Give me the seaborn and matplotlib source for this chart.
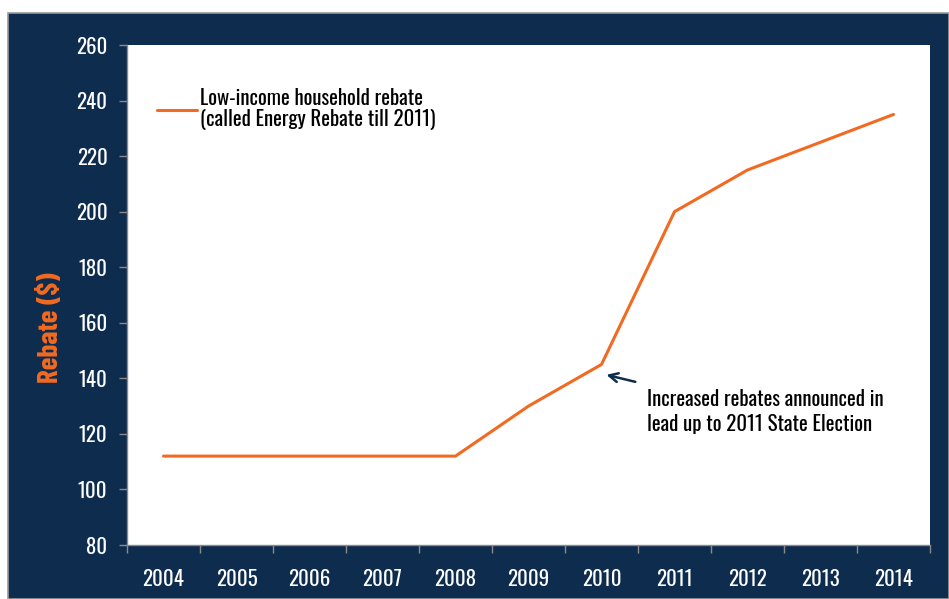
import matplotlib
matplotlib.use("Agg")
import matplotlib.pyplot as plt
from matplotlib.patches import Rectangle
from matplotlib import font_manager
import seaborn as sns
import numpy as np

years = [2004, 2005, 2006, 2007, 2008, 2009, 2010, 2011, 2012, 2013, 2014]
rebate = [112, 112, 112, 112, 112, 130, 145, 200, 215, 225, 235]
y_ticks = [80, 100, 120, 140, 160, 180, 200, 220, 240, 260]
series_label = "Low-income household rebate\n(called Energy Rebate till 2011)"
note = "Increased rebates announced in\nlead up to 2011 State Election"

NAVY = "#0e2c4e"
ORANGE = "#f26a21"

sns.set_theme(style="white")
names = {f.name for f in font_manager.fontManager.ttflist}


def pick(cands):
    for c in cands:
        if c in names:
            return c
    return "DejaVu Sans"


fam = pick(["Oswald", "Barlow Condensed", "Roboto Condensed", "Archivo Narrow"])
bold_fam = pick(["Barlow Condensed", "Roboto Condensed", "Archivo Narrow", "Oswald"])
plt.rcParams["font.family"] = [fam, "DejaVu Sans"]
FS = 15
W8 = 300

W, H = 949, 599
fig = plt.figure(figsize=(W / 100, H / 100), dpi=100, facecolor="white")
bg = Rectangle((8 / W, 0), (W - 8) / W, (H - 13) / H,
               transform=fig.transFigure, facecolor=NAVY,
               edgecolor="#9a9a9a", linewidth=1.2, zorder=-10)
fig.add_artist(bg)

ax = fig.add_axes([127 / W, (H - 545) / H, 803 / W, 500 / H])
ax.set_zorder(1)
ax.set_facecolor("white")
sns.lineplot(x=years, y=rebate, ax=ax, color=ORANGE, linewidth=2.2,
             label=series_label)

ax.set_xlim(2003.5, 2014.5)
ax.set_ylim(80, 260)
ax.set_yticks(y_ticks)
ax.set_xticks(years)
ax.set_xticks(np.arange(2003.5, 2015, 1.0), minor=True)
ax.tick_params(axis="x", which="major", length=0, pad=17, labelsize=FS, labelcolor="white")
ax.tick_params(axis="x", which="minor", length=6, width=1, color="#8a8a8a", direction="out", bottom=True)
ax.tick_params(axis="y", length=6, width=1, color="#8a8a8a", direction="out", left=True,
               labelsize=FS, labelcolor="white", pad=8)
for lab in ax.get_xticklabels() + ax.get_yticklabels():
    lab.set_fontweight(W8)

for s in ["top", "right"]:
    ax.spines[s].set_visible(False)
for s in ["left", "bottom"]:
    ax.spines[s].set_color("#8a8a8a")
    ax.spines[s].set_linewidth(1)

ax.set_xlabel("")
ax.set_ylabel("Rebate ($)", color=ORANGE, fontsize=21, fontweight="bold",
              fontfamily=[bold_fam, "DejaVu Sans"])
ax.yaxis.set_label_coords(-0.08, 0.435)

leg = ax.legend(loc="upper left", bbox_to_anchor=(0.027, 0.93), frameon=False,
                prop={"size": FS, "weight": W8}, handlelength=1.9,
                handletextpad=0.15, borderaxespad=0, labelspacing=0.2)
for t in leg.get_texts():
    t.set_color("black")
    t.set_linespacing(1.05)

ax.annotate("", xy=(2010.03, 141.5), xytext=(2010.5, 138.5),
            arrowprops=dict(arrowstyle="->", color=NAVY, lw=1.8, mutation_scale=16))
ax.text(2010.63, 136, note, fontsize=FS, fontweight=W8, color="black",
        va="top", ha="left", linespacing=1.25)

fig.savefig("out.png", dpi=100, facecolor="white")
